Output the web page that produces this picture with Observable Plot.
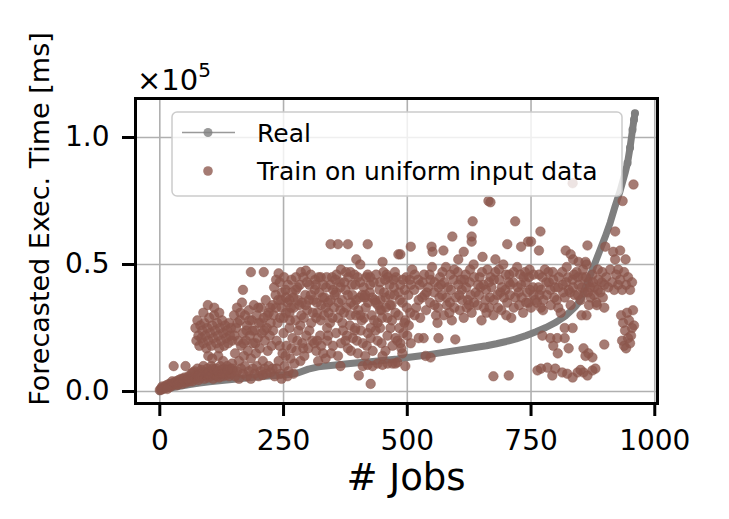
<!DOCTYPE html>
<html>
<head>
<meta charset="utf-8">
<script src="https://cdn.jsdelivr.net/npm/d3@7"></script>
<script src="https://cdn.jsdelivr.net/npm/@observablehq/plot@0.6"></script>
<style>
  html, body { margin: 0; padding: 0; background: #ffffff; }
  #chart { width: 729px; height: 519px; }
</style>
</head>
<body>
<div id="chart"></div>
<script>
// ---- data (execution times in units of 1e5 ms) ----
const xTicks = [0, 250, 500, 750, 1000];
const yTicks = [0, 0.5, 1.0];

const realJobs = [0,10,20,40,60,80,100,120,140,160,180,200,220,240,260,280,300,320,340,360,380,400,420,440,460,480,500,520,540,560,580,600,620,640,660,680,700,720,740,760,780,800,820,840,850,860,870,880,890,900,910,920,930,940,945,950,955,958,960];
const realTime = [0.0,0.008,0.013,0.02,0.027,0.033,0.038,0.042,0.046,0.05,0.054,0.058,0.061,0.064,0.067,0.074,0.088,0.097,0.101,0.105,0.109,0.113,0.116,0.12,0.124,0.128,0.134,0.139,0.144,0.15,0.156,0.162,0.168,0.174,0.18,0.188,0.197,0.207,0.22,0.235,0.252,0.272,0.298,0.335,0.36,0.41,0.46,0.51,0.56,0.61,0.665,0.73,0.79,0.86,0.9,0.96,1.03,1.07,1.095];

// [job index, forecast] for "Train on uniform input data"
const trainPoints = [
  [0,0.005],[2,0.01],[4,0.008],[6,0.015],[8,0.012],[10,0.02],[12,0.015],[14,0.025],[17,0.02],[19,0.03],[21,0.018],[23,0.028],
  [26,0.025],[28,0.035],[30,0.03],[33,0.04],[35,0.025],[38,0.045],[40,0.035],[43,0.05],[45,0.03],[48,0.04],[50,0.055],[53,0.035],[55,0.045],[58,0.06],[60,0.04],[28,0.10],[52,0.10],
  [62,0.05],[64,0.07],[66,0.04],[68,0.06],[70,0.08],[72,0.05],[74,0.065],[76,0.09],[78,0.045],[80,0.07],[82,0.055],[84,0.085],[86,0.06],[88,0.1],[90,0.05],[92,0.075],[94,0.065],[96,0.09],[98,0.055],[100,0.08],[102,0.06],[104,0.1],[106,0.07],[108,0.05],[110,0.085],[112,0.065],[114,0.09],[116,0.06],[118,0.075],[120,0.055],[122,0.1],[124,0.07],[126,0.085],[128,0.06],[130,0.09],[132,0.075],[134,0.065],[136,0.1],[138,0.08],[140,0.06],[142,0.09],[144,0.07],[146,0.11],[148,0.08],
  [5,0.02],[15,0.01],[25,0.04],[37,0.03],[47,0.05],[57,0.05],[67,0.075],[77,0.06],[87,0.075],[97,0.07],[107,0.09],[117,0.08],[127,0.07],[137,0.085],[147,0.09],
  [72,0.25],[74,0.2],[76,0.28],[78,0.22],[80,0.18],[82,0.26],[84,0.21],[86,0.24],[88,0.19],[90,0.27],[92,0.22],[94,0.17],[96,0.25],[98,0.2],[100,0.29],[102,0.23],[104,0.18],[106,0.26],[108,0.21],[110,0.3],[112,0.24],[114,0.19],[116,0.27],[118,0.22],[120,0.17],[122,0.25],[124,0.2],[126,0.28],[128,0.23],[130,0.18],[132,0.26],[134,0.21],[136,0.24],[138,0.19],[140,0.27],[142,0.22],[144,0.25],[146,0.2],
  [97,0.34],[88,0.31],[110,0.33],[120,0.31],[98,0.14],[106,0.13],[118,0.14],[128,0.12],
  [150,0.3],[152,0.15],[154,0.25],[156,0.33],[158,0.2],[160,0.12],[162,0.28],[164,0.18],[166,0.35],[168,0.23],[170,0.14],[172,0.3],[174,0.2],[176,0.26],[178,0.16],[180,0.32],[182,0.22],[184,0.13],[186,0.28],[188,0.19],[190,0.34],[192,0.24],[194,0.15],[196,0.3],[198,0.21],[200,0.27],[202,0.17],[204,0.33],[206,0.23],[208,0.12],[210,0.29],[212,0.2],[214,0.36],[216,0.25],[218,0.16],[220,0.31],[222,0.22],[224,0.27],[226,0.18],[228,0.34],
  [151,0.22],[157,0.27],[163,0.31],[169,0.19],[175,0.24],[181,0.28],[187,0.24],[193,0.19],[199,0.33],[205,0.27],[211,0.24],[217,0.3],[223,0.33],[229,0.24],
  [168,0.40],[184,0.47],[210,0.47],
  [152,0.06],[156,0.08],[160,0.05],[164,0.09],[168,0.07],[172,0.1],[176,0.06],[180,0.08],[184,0.05],[188,0.09],[192,0.07],[196,0.1],[200,0.06],[204,0.08],[208,0.065],[212,0.09],[216,0.07],[220,0.1],[224,0.075],[228,0.09],
  [232,0.06],[236,0.09],[240,0.12],[244,0.07],[248,0.15],[252,0.1],[256,0.18],[260,0.08],[264,0.13],[268,0.21],[272,0.11],[276,0.16],[280,0.24],[284,0.12],[288,0.19],[292,0.14],[296,0.22],[300,0.17],[236,0.2],[250,0.23],[262,0.25],[246,0.05],[258,0.06],[270,0.07],
  [242,0.18],[254,0.14],[266,0.17],[278,0.2],[290,0.17],[302,0.24],[312,0.19],[326,0.18],[338,0.2],[346,0.15],[356,0.23],[366,0.19],[378,0.22],[386,0.16],[398,0.2],[406,0.24],[418,0.18],[426,0.21],[436,0.24],[448,0.19],[456,0.16],[466,0.25],[476,0.21],
  [230,0.3],[234,0.38],[238,0.27],[242,0.43],[246,0.33],[250,0.29],[254,0.4],[258,0.35],[262,0.31],[266,0.44],[270,0.37],[274,0.28],[278,0.41],[282,0.34],[286,0.3],[290,0.45],[294,0.38],[298,0.32],[302,0.42],[306,0.27],[310,0.36],[314,0.44],[318,0.31],[322,0.39],[326,0.34],[330,0.42],[240,0.465],[295,0.476],[262,0.36],[284,0.26],[316,0.29],
  [231,0.41],[235,0.33],[239,0.36],[243,0.29],[247,0.39],[251,0.45],[255,0.31],[259,0.42],[263,0.28],[267,0.39],[271,0.33],[275,0.45],[279,0.36],[283,0.42],[287,0.35],[291,0.29],[297,0.43],[301,0.36],[305,0.46],[309,0.31],[313,0.4],[317,0.35],[321,0.45],[325,0.28],[329,0.37],
  [308,0.2],[316,0.16],[324,0.22],[320,0.12],
  [345,0.58],[360,0.58],[380,0.58],[420,0.58],[397,0.52],[405,0.50],[450,0.51],[482,0.54],
  [332,0.3],[336,0.41],[340,0.35],[344,0.27],[348,0.45],[352,0.33],[356,0.39],[360,0.29],[364,0.43],[368,0.36],[372,0.31],[376,0.47],[380,0.38],[384,0.26],[388,0.42],[392,0.34],[396,0.3],[400,0.45],[404,0.37],[408,0.28],[412,0.41],[416,0.33],[420,0.46],[424,0.39],[428,0.3],[432,0.43],[436,0.35],[440,0.27],[444,0.4],[448,0.32],[452,0.47],[456,0.37],[460,0.29],[464,0.42],[468,0.34],[472,0.44],[476,0.31],[338,0.25],[366,0.48],[394,0.24],[426,0.25],[458,0.46],[350,0.4],[386,0.35],[414,0.37],[446,0.36],[474,0.38],
  [333,0.37],[337,0.45],[341,0.31],[345,0.42],[349,0.29],[353,0.38],[357,0.46],[361,0.35],[365,0.41],[369,0.27],[373,0.43],[377,0.33],[381,0.45],[385,0.3],[389,0.38],[393,0.46],[397,0.36],[401,0.32],[405,0.43],[409,0.38],[413,0.29],[417,0.45],[421,0.35],[425,0.42],[429,0.37],[433,0.28],[437,0.46],[441,0.34],[445,0.43],[449,0.29],[453,0.39],[457,0.33],[461,0.45],[465,0.38],[469,0.28],[473,0.41],[477,0.45],
  [235,0.44],[245,0.36],[255,0.37],[265,0.33],[275,0.4],[285,0.47],[295,0.34],[305,0.38],[315,0.42],[325,0.45],[335,0.33],[345,0.36],[355,0.44],[365,0.32],[375,0.4],[385,0.47],[395,0.42],[405,0.3],[415,0.38],[425,0.45],[435,0.36],[445,0.32],[455,0.44],[465,0.34],[475,0.47],
  [365,0.10],[410,0.10],[420,0.105],[430,0.1],[440,0.11],[450,0.105],[460,0.11],[470,0.11],[480,0.115],
  [318,0.2],[330,0.15],[340,0.22],[350,0.18],[360,0.14],[370,0.24],[380,0.17],[390,0.21],[400,0.15],[410,0.19],[420,0.23],[430,0.16],[440,0.2],[450,0.14],[460,0.22],[470,0.18],[335,0.13],[375,0.2],[395,0.25],[415,0.14],[445,0.25],
  [402,0.063],[426,0.03],
  [486,0.54],[507,0.57],[549,0.57],[551,0.55],[573,0.555],[591,0.61],[630,0.61],[630,0.59],[632,0.67],[664,0.75],[668,0.745],[614,0.55],[603,0.52],[652,0.53],[678,0.52],[702,0.58],[718,0.67],[730,0.57],[744,0.59],
  [561,0.27],[563,0.21],[597,0.205],[533,0.21],[523,0.21],[507,0.19],[486,0.19],[490,0.15],[547,0.134],[537,0.14],[496,0.10],[476,0.11],
  [482,0.3],[486,0.42],[490,0.35],[494,0.27],[498,0.45],[502,0.38],[506,0.31],[510,0.48],[514,0.4],[518,0.33],[522,0.44],[526,0.29],[530,0.37],[534,0.46],[538,0.32],[542,0.41],[546,0.35],[550,0.49],[554,0.39],[558,0.3],
  [480,0.2],[484,0.25],[488,0.17],[492,0.23],[496,0.28],[500,0.22],[503,0.26],
  [483,0.39],[491,0.44],[499,0.33],[507,0.42],[515,0.46],[523,0.36],[531,0.43],[539,0.39],[547,0.44],[555,0.34],
  [485,0.36],[495,0.4],[505,0.44],[515,0.3],[525,0.42],[535,0.38],[545,0.46],[555,0.43],
  [562,0.33],[566,0.45],[570,0.38],[574,0.3],[578,0.49],[582,0.41],[586,0.35],[590,0.28],[594,0.44],[598,0.37],[602,0.47],[606,0.32],[610,0.4],[614,0.29],[618,0.46],[622,0.36],[626,0.43],[630,0.31],[634,0.5],[638,0.39],[642,0.34],[646,0.45],[650,0.28],[654,0.42],[658,0.36],[662,0.48],[666,0.33],[670,0.41],[674,0.3],[678,0.47],[682,0.38],[686,0.44],[690,0.32],[694,0.5],[698,0.4],[702,0.35],[706,0.46],[710,0.29],[714,0.43],[718,0.37],[722,0.49],[726,0.34],[730,0.42],[734,0.31],[738,0.47],[742,0.39],[746,0.45],[750,0.33],[754,0.41],[758,0.36],
  [568,0.42],[588,0.4],[608,0.44],[628,0.38],[648,0.41],[668,0.45],[688,0.39],[708,0.42],[728,0.46],[748,0.4],[580,0.34],[620,0.33],[660,0.31],[700,0.3],[740,0.35],
  [563,0.41],[571,0.47],[579,0.37],[587,0.46],[595,0.33],[603,0.42],[611,0.36],[619,0.41],[627,0.48],[635,0.35],[643,0.42],[651,0.47],[659,0.4],[667,0.37],[675,0.44],[683,0.33],[691,0.41],[699,0.46],[707,0.38],[715,0.47],[723,0.41],[731,0.37],[739,0.43],[747,0.48],[755,0.38],
  [565,0.37],[575,0.43],[585,0.31],[595,0.48],[605,0.38],[615,0.44],[625,0.34],[635,0.45],[645,0.38],[655,0.33],[665,0.43],[675,0.36],[685,0.48],[695,0.37],[705,0.43],[715,0.33],[725,0.39],[735,0.45],[745,0.35],[755,0.46],
  [674,0.06],[705,0.063],
  [762,0.35],[766,0.46],[770,0.4],[774,0.32],[778,0.48],[782,0.38],[786,0.43],[790,0.34],[794,0.47],[798,0.41],[802,0.36],[806,0.45],[810,0.31],[814,0.42],[818,0.37],[822,0.49],[826,0.4],[830,0.34],[834,0.44],[838,0.38],[842,0.47],[846,0.42],[850,0.36],[854,0.45],[858,0.39],[862,0.5],[866,0.43],[870,0.37],[874,0.46],[878,0.41],[882,0.35],[886,0.44],[890,0.39],[894,0.47],[898,0.42],
  [765,0.41],[773,0.45],[781,0.43],[789,0.4],[797,0.37],[805,0.41],[813,0.47],[821,0.43],[829,0.39],[837,0.46],[845,0.38],[853,0.41],[861,0.45],[869,0.41],[877,0.38],[885,0.48],[893,0.43],
  [767,0.38],[775,0.36],[785,0.47],[795,0.44],[805,0.33],[815,0.39],[825,0.45],[835,0.41],[845,0.45],[855,0.48],[865,0.39],[875,0.43],[885,0.4],[895,0.37],
  [769,0.63],[750,0.59],[766,0.555],[864,0.575],[820,0.555],[830,0.54],[835,0.52],[846,0.51],[860,0.51],[834,0.82],
  [773,0.22],[789,0.21],[803,0.21],[818,0.25],[834,0.25],[818,0.21],[826,0.17],[804,0.15],[795,0.18],[856,0.17],[866,0.15],[874,0.134],[860,0.14],[898,0.185],[862,0.3],[852,0.3],[867,0.34],[883,0.34],[898,0.33],[770,0.33],
  [763,0.083],[783,0.094],[799,0.09],[813,0.075],[793,0.063],[834,0.055],[844,0.075],[856,0.075],[874,0.083],[880,0.09],[864,0.063],[823,0.07],[770,0.09],[850,0.085],
  [900,0.57],[916,0.55],[930,0.555],[920,0.52],[926,0.48],[941,0.52],[920,0.63],[935,0.75],[957,0.815],
  [902,0.45],[906,0.41],[910,0.48],[914,0.43],[918,0.4],[922,0.46],[926,0.42],[930,0.44],[934,0.4],[938,0.47],[942,0.42],[946,0.45],[950,0.4],[954,0.43],
  [932,0.3],[936,0.27],[940,0.24],[944,0.31],[948,0.28],[952,0.22],[956,0.32],[958,0.26],[934,0.2],[938,0.18],[946,0.21],[950,0.19],[954,0.25],[942,0.17]
];

const legendLabels = ["Real", "Train on uniform input data"];
const xLabel = "# Jobs";
const yLabel = "Forecasted Exec. Time [ms]";

// ---- build tables ----
const real = realJobs.map((j, i) => ({job: j, time: realTime[i]}));
const train = trainPoints.map(([j, v]) => ({job: j, time: v}));

const GRAY = "#7f7f7f";
const BROWN = "#8c564b";
const FONT = "DejaVu Sans";

const chart = Plot.plot({
  width: 729,
  height: 519,
  marginLeft: 135,
  marginRight: 72,
  marginTop: 98,
  marginBottom: 116,
  style: {fontFamily: FONT, background: "#ffffff", color: "#000000"},
  x: {domain: [-49.1, 1005.5]},
  y: {domain: [-0.0472, 1.1535]},
  marks: [
    Plot.gridX(xTicks, {stroke: "#b0b0b0", strokeOpacity: 1, strokeWidth: 1.6}),
    Plot.gridY(yTicks, {stroke: "#b0b0b0", strokeOpacity: 1, strokeWidth: 1.6}),
    Plot.line(real, {x: "job", y: "time", stroke: GRAY, strokeWidth: 7, strokeLinecap: "round", strokeLinejoin: "round"}),
    Plot.dot(real.filter(d => d.job >= 945), {x: "job", y: "time", r: 4, fill: GRAY}),
    Plot.dot(train, {x: "job", y: "time", r: 4.8, fill: BROWN, fillOpacity: 0.78, stroke: BROWN, strokeOpacity: 0.45, strokeWidth: 1}),
    Plot.frame({stroke: "#000000", strokeWidth: 3}),
    Plot.axisX(xTicks, {tickSize: 13, strokeWidth: 3, tickPadding: 14, fontSize: 28, label: null, tickFormat: d => String(d)}),
    Plot.axisY(yTicks, {tickSize: 13, strokeWidth: 3, tickPadding: 13, fontSize: 28, label: null, tickFormat: d => d.toFixed(1)})
  ]
});

document.getElementById("chart").appendChild(chart);

// ---- annotations: axis labels, offset text, legend ----
const svg = d3.select(chart);
const g = svg.append("g").attr("font-family", FONT).attr("fill", "#000");

g.append("text")
  .attr("transform", "translate(49,219) rotate(-90)")
  .attr("text-anchor", "middle")
  .attr("font-size", 27)
  .text(yLabel);

g.append("text")
  .attr("x", 406).attr("y", 490)
  .attr("text-anchor", "middle")
  .attr("font-size", 37)
  .text(xLabel);

const off = g.append("text").attr("x", 137).attr("y", 90).attr("font-size", 29).attr("text-anchor", "start");
off.append("tspan").text("×10");
off.append("tspan").attr("font-size", 20).attr("dy", -13).text("5");

const lg = svg.append("g").attr("font-family", FONT).attr("text-anchor", "start");
lg.append("rect")
  .attr("x", 172).attr("y", 112).attr("width", 450).attr("height", 84)
  .attr("rx", 5).attr("fill", "#ffffff").attr("fill-opacity", 0.8)
  .attr("stroke", "#cccccc").attr("stroke-width", 1.5);
lg.append("line")
  .attr("x1", 182).attr("x2", 235).attr("y1", 132.5).attr("y2", 132.5)
  .attr("stroke", GRAY).attr("stroke-opacity", 0.8).attr("stroke-width", 1.5);
lg.append("circle").attr("cx", 208).attr("cy", 132.5).attr("r", 4.5).attr("fill", GRAY).attr("fill-opacity", 0.8);
lg.append("circle").attr("cx", 208).attr("cy", 171).attr("r", 4.8).attr("fill", BROWN).attr("fill-opacity", 0.78);
lg.append("text").attr("x", 257).attr("y", 142).attr("font-size", 25).attr("fill", "#000").text(legendLabels[0]);
lg.append("text").attr("x", 257).attr("y", 180).attr("font-size", 25).attr("fill", "#000").text(legendLabels[1]);
</script>
</body>
</html>
